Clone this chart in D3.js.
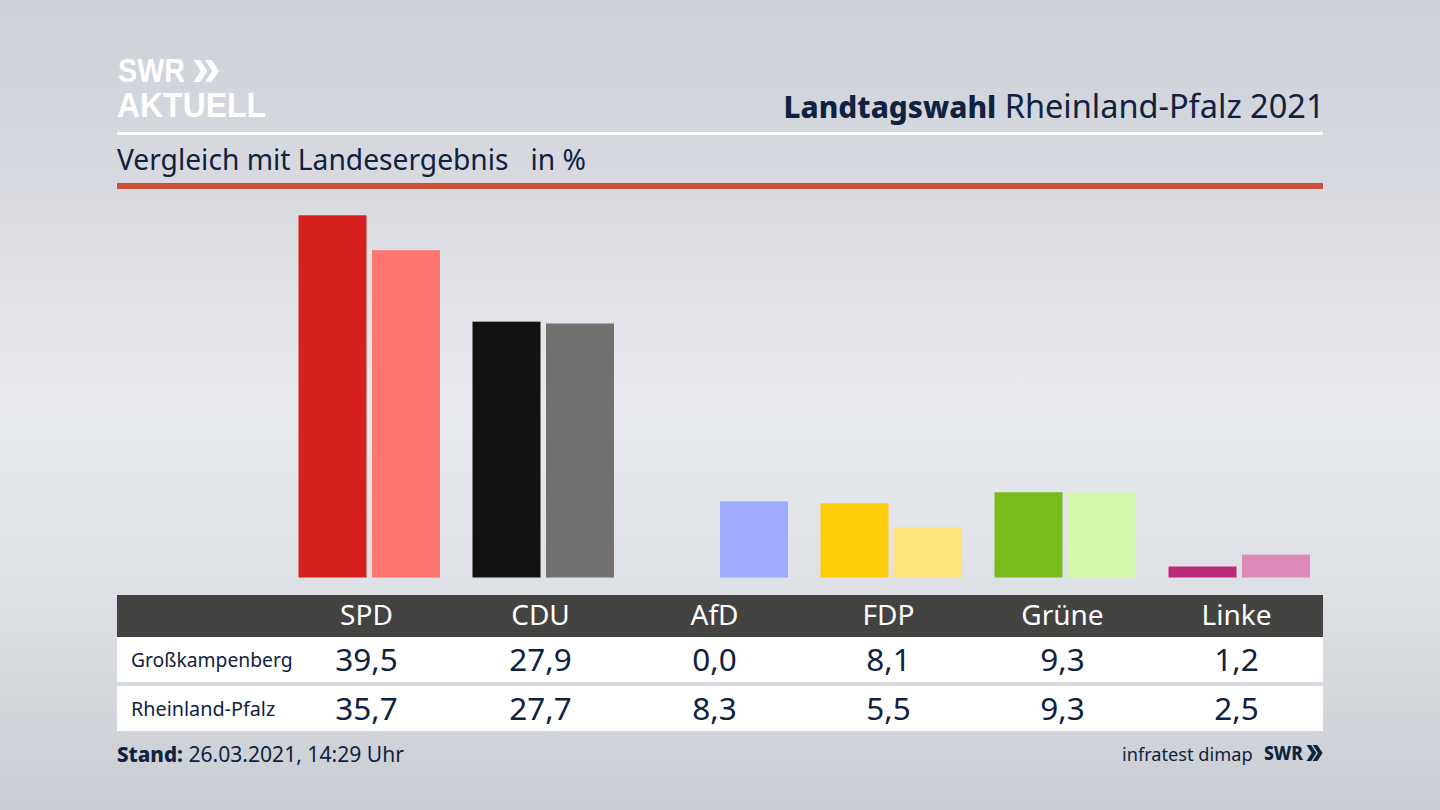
<!DOCTYPE html>
<html><head><meta charset="utf-8">
<script src="https://cdn.jsdelivr.net/npm/d3@7"></script>
<style>html,body{margin:0;padding:0;background:#dfe1e6}svg{display:block}text{font-family:"Noto Sans",sans-serif}</style>
</head><body><svg id="c" width="1440" height="810"></svg>
<script>
const parties=["SPD","CDU","AfD","FDP","Grüne","Linke"];
const localValues=[39.5,27.9,0.0,8.1,9.3,1.2];
const stateValues=[35.7,27.7,8.3,5.5,9.3,2.5];
const localColors=["#d61f1f","#121212","#9eabff","#ffcc0a","#78bb1d","#b92b78"];
const stateColors=["#ff7570","#72716f","#9eabff","#ffe278","#d5f6ac","#de8ab8"];
const rowNames=["Großkampenberg","Rheinland-Pfalz"];
const navy="#0f2240";
const fmt=v=>v.toFixed(1).replace(".",",");
const svg=d3.select("#c");
const defs=svg.append("defs");
const g=defs.append("linearGradient").attr("id","bg").attr("x1",0).attr("x2",0).attr("y1",0).attr("y2",1);
[[0,"#cdd0d7"],[0.25,"#d9dbe1"],[0.5,"#e9ebf0"],[0.75,"#dcdfe3"],[1,"#c9cdd3"]].forEach(s=>g.append("stop").attr("offset",s[0]).attr("stop-color",s[1]));
svg.append("rect").attr("width",1440).attr("height",810).attr("fill","url(#bg)");

const x=d3.scaleBand().domain(parties).range([282.5,1326.5]).paddingInner(0).paddingOuter(0);
const y=d3.scaleLinear().domain([0,39.5]).range([577.5,215.3]);
const barW=68, barGap=5.5, groupOff=16;
const bars=svg.append("g");
parties.forEach((p,i)=>{
  const x0=x(p)+groupOff;
  bars.append("rect").attr("x",x0).attr("width",barW).attr("y",y(localValues[i])).attr("height",y(0)-y(localValues[i])).attr("fill",localColors[i]);
  bars.append("rect").attr("x",x0+barW+barGap).attr("width",barW).attr("y",y(stateValues[i])).attr("height",y(0)-y(stateValues[i])).attr("fill",stateColors[i]);
});

// header
svg.append("rect").attr("x",117).attr("y",132).attr("width",1206).attr("height",3).attr("fill","#fff");
svg.append("rect").attr("x",117).attr("y",183).attr("width",1206).attr("height",6).attr("fill","#cb5037");
svg.append("text").attr("x",117).attr("y",170).attr("font-size",28.2).attr("fill",navy).attr("xml:space","preserve").text("Vergleich mit Landesergebnis   in %");
const t=svg.append("text").attr("x",1324.5).attr("y",117.5).attr("text-anchor","end").attr("font-size",32.5).attr("fill",navy);
t.append("tspan").attr("font-weight",800).attr("font-size",29.8).text("Landtagswahl");
t.append("tspan").text(" Rheinland-Pfalz 2021");

// logo
const chev=(sel,x0,y0,h,step,th,col)=>{const w=h*0.33;[0,1].forEach(k=>{const o=x0+k*step;
 sel.append("path").attr("d",`M${o},${y0}h${th}l${w},${h/2}l${-w},${h/2}h${-th}l${w},${-h/2}z`).attr("fill",col);});};
const logo=svg.append("g");
logo.append("text").attr("x",118).attr("y",82).attr("font-size",34).attr("font-weight",700).style("font-family",'"Liberation Sans",sans-serif').attr("fill","#fff").attr("textLength",67).attr("lengthAdjust","spacingAndGlyphs").text("SWR");
chev(svg,193.5,60,22,11.5,6.6,"#fff");
logo.append("text").attr("x",117).attr("y",116.5).attr("font-size",35).attr("font-weight",700).style("font-family",'"Liberation Sans",sans-serif').attr("fill","#fff").attr("textLength",149).attr("lengthAdjust","spacingAndGlyphs").text("AKTUELL");

// table
svg.append("rect").attr("x",117).attr("y",595).attr("width",1206).attr("height",42).attr("fill","#434342");
svg.append("rect").attr("x",117).attr("y",637).attr("width",1206).attr("height",45).attr("fill","#fff");
svg.append("rect").attr("x",117).attr("y",686).attr("width",1206).attr("height",45).attr("fill","#fff");
const cx=p=>x(p)+x.bandwidth()/2-3;
svg.append("g").selectAll("text").data(parties).join("text").attr("x",cx).attr("y",625).attr("text-anchor","middle").attr("font-size",28).attr("fill","#fff").text(d=>d);
[[localValues,671],[stateValues,720]].forEach(([vals,yy])=>{
  svg.append("g").selectAll("text").data(vals).join("text").attr("x",(d,i)=>cx(parties[i])).attr("y",yy).attr("text-anchor","middle").attr("font-size",31.5).attr("fill",navy).text(fmt);
});
rowNames.forEach((n,i)=>svg.append("text").attr("x",131).attr("y",[667,716][i]).attr("font-size",[19.3,19.8][i]).attr("fill",navy).text(n));

// footer
const s=svg.append("text").attr("x",117).attr("y",762).attr("font-size",21.1).attr("fill",navy);
s.append("tspan").attr("font-weight",800).attr("font-size",20.6).text("Stand:");
s.append("tspan").text(" 26.03.2021, 14:29 Uhr");
svg.append("text").attr("x",1122).attr("y",760.5).attr("font-size",18.2).attr("fill",navy).text("infratest dimap");
svg.append("text").attr("x",1264).attr("y",760).attr("font-size",20).attr("font-weight",800).attr("fill",navy).attr("textLength",39).attr("lengthAdjust","spacingAndGlyphs").text("SWR");
chev(svg,1306.5,745,16,6.2,4.6,navy);
</script></body></html>
